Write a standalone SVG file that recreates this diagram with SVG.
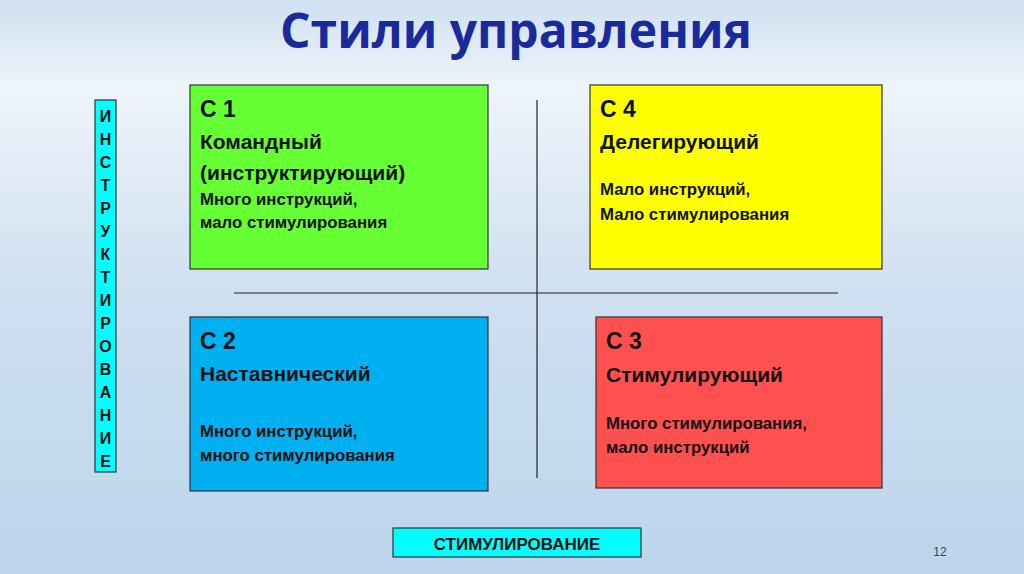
<svg xmlns="http://www.w3.org/2000/svg" width="1024" height="574" viewBox="0 0 1024 574">
<defs>
<linearGradient id="bg" x1="0" y1="0" x2="0" y2="1">
<stop offset="0" stop-color="#cfe0f1"/><stop offset="0.15" stop-color="#eef4fa"/><stop offset="0.5" stop-color="#cfe0f1"/><stop offset="1" stop-color="#bcd5ec"/>
</linearGradient>
<style>
.b{stroke:#333;stroke-width:1.2}
.t{font-family:"Liberation Sans",Arial,sans-serif;font-weight:bold;fill:#111}
.h{font-size:23px}.m{font-size:21px}.s{font-size:16.8px}
.v{font-family:"Liberation Sans",Arial,sans-serif;font-weight:bold;font-size:16px;fill:#111;text-anchor:middle}
</style>
</defs>
<rect width="1024" height="574" fill="url(#bg)"/>
<text x="516" y="48" text-anchor="middle" font-family="'Open Sans','Liberation Sans',sans-serif" font-weight="bold" font-size="48" fill="#1a2a9a">Стили управления</text>
<g id="connectors" stroke="#222" stroke-width="1.2">
<line x1="537" y1="100" x2="537" y2="478"/>
<line x1="234" y1="293" x2="838" y2="293"/>
</g>
<g id="vbox">
<rect class="b" x="95" y="100" width="21" height="372" fill="#00ffff"/>
<text class="v"><tspan x="105.5" y="122">И</tspan><tspan x="105.5" y="145">Н</tspan><tspan x="105.5" y="168">С</tspan><tspan x="105.5" y="191">Т</tspan><tspan x="105.5" y="214">Р</tspan><tspan x="105.5" y="237">У</tspan><tspan x="105.5" y="260">К</tspan><tspan x="105.5" y="283">Т</tspan><tspan x="105.5" y="306">И</tspan><tspan x="105.5" y="329">Р</tspan><tspan x="105.5" y="352">О</tspan><tspan x="105.5" y="375">В</tspan><tspan x="105.5" y="398">А</tspan><tspan x="105.5" y="421">Н</tspan><tspan x="105.5" y="444">И</tspan><tspan x="105.5" y="467">Е</tspan></text>
</g>
<g id="c1">
<rect class="b" x="190" y="85" width="298" height="184" fill="#66ff33"/>
<text class="t h" x="200" y="117">С 1</text>
<text class="t m" x="200" y="149">Командный</text>
<text class="t m" x="200" y="180">(инструктирующий)</text>
<text class="t s" x="200" y="205">Много инструкций,</text>
<text class="t s" x="200" y="228">мало стимулирования</text>
</g>
<g id="c4">
<rect class="b" x="590" y="85" width="292" height="184" fill="#ffff00"/>
<text class="t h" x="600" y="117">С 4</text>
<text class="t m" x="600" y="149">Делегирующий</text>
<text class="t s" x="600" y="195">Мало инструкций,</text>
<text class="t s" x="600" y="220">Мало стимулирования</text>
</g>
<g id="c2">
<rect class="b" x="190" y="317" width="298" height="174" fill="#00b0f0"/>
<text class="t h" x="200" y="349">С 2</text>
<text class="t m" x="200" y="381">Наставнический</text>
<text class="t s" x="200" y="437">Много инструкций,</text>
<text class="t s" x="200" y="461">много стимулирования</text>
</g>
<g id="c3">
<rect class="b" x="596" y="317" width="286" height="171" fill="#ff5050"/>
<text class="t h" x="606" y="349">С 3</text>
<text class="t m" x="606" y="382">Стимулирующий</text>
<text class="t s" x="606" y="429">Много стимулирования,</text>
<text class="t s" x="606" y="453">мало инструкций</text>
</g>
<g id="hbox">
<rect class="b" x="393" y="528" width="248" height="29" fill="#00ffff"/>
<text class="t" x="517" y="550" font-size="17" text-anchor="middle">СТИМУЛИРОВАНИЕ</text>
</g>
<text x="940" y="556" text-anchor="middle" font-family="'Liberation Sans',sans-serif" font-size="12" fill="#444">12</text>
</svg>
